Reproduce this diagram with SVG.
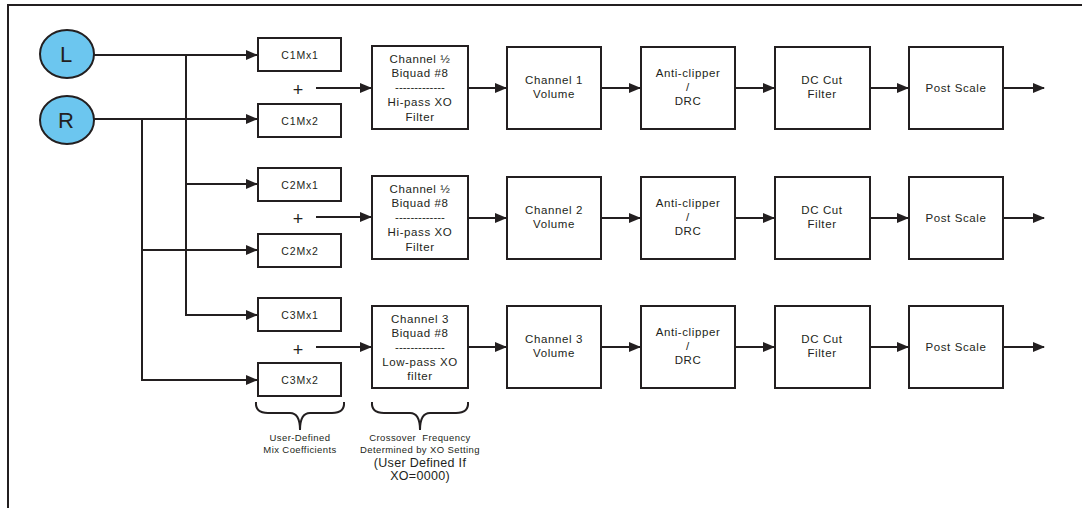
<svg xmlns="http://www.w3.org/2000/svg" width="1082" height="508" viewBox="0 0 1082 508">
<style>
.ln{fill:none;stroke:#231f20;stroke-width:2}
.bx{fill:#fff;stroke:#231f20;stroke-width:2}
.t{font-family:"Liberation Sans",Arial,sans-serif;font-size:11.5px;fill:#231f20;text-anchor:middle;letter-spacing:0.6px}
.d{font-family:"Liberation Sans",Arial,sans-serif;font-size:11.5px;fill:#231f20;text-anchor:middle;letter-spacing:0px}
.m{font-family:"Liberation Sans",Arial,sans-serif;font-size:10.5px;fill:#231f20;text-anchor:middle;letter-spacing:0.8px}
.s{font-family:"Liberation Sans",Arial,sans-serif;font-size:9.5px;fill:#231f20;text-anchor:middle;letter-spacing:0.4px}
.u{font-family:"Liberation Sans",Arial,sans-serif;font-size:12.5px;fill:#231f20;text-anchor:middle;letter-spacing:0.3px}
.p{font-family:"Liberation Sans",Arial,sans-serif;font-size:18px;fill:#231f20;text-anchor:middle}
.c{fill:#6cc6ef;stroke:#231f20;stroke-width:2}
.ct{font-family:"Liberation Sans",Arial,sans-serif;font-size:22px;fill:#231f20;text-anchor:middle}
</style>
<defs>
<marker id="ah" markerUnits="userSpaceOnUse" markerWidth="12" markerHeight="10" refX="11" refY="5" orient="auto">
<path d="M0,0 L12,5 L0,10 z" fill="#231f20"/>
</marker>
</defs>
<rect width="1082" height="508" fill="#fff"/>
<path class="ln" d="M8,510 V5 H1084" stroke-width="2.5"/>

<g id="connectors">
<path class="ln" d="M94,55 H257" marker-end="url(#ah)"/>
<path class="ln" d="M94,119 H257" marker-end="url(#ah)"/>
<path class="ln" d="M186,55 V315 H257" marker-end="url(#ah)"/>
<path class="ln" d="M186,184 H257" marker-end="url(#ah)"/>
<path class="ln" d="M142,119 V380 H257" marker-end="url(#ah)"/>
<path class="ln" d="M142,250 H257" marker-end="url(#ah)"/>
<path class="ln" d="M316,88 H371" marker-end="url(#ah)"/>
<path class="ln" d="M316,217 H371" marker-end="url(#ah)"/>
<path class="ln" d="M316,347 H371" marker-end="url(#ah)"/>
<path class="ln" d="M468,88 H506" marker-end="url(#ah)"/>
<path class="ln" d="M601,88 H640" marker-end="url(#ah)"/>
<path class="ln" d="M735,88 H774" marker-end="url(#ah)"/>
<path class="ln" d="M870,88 H908" marker-end="url(#ah)"/>
<path class="ln" d="M1003,88 H1044" marker-end="url(#ah)"/>
<path class="ln" d="M468,218 H506" marker-end="url(#ah)"/>
<path class="ln" d="M601,218 H640" marker-end="url(#ah)"/>
<path class="ln" d="M735,218 H774" marker-end="url(#ah)"/>
<path class="ln" d="M870,218 H908" marker-end="url(#ah)"/>
<path class="ln" d="M1003,218 H1044" marker-end="url(#ah)"/>
<path class="ln" d="M468,347 H506" marker-end="url(#ah)"/>
<path class="ln" d="M601,347 H640" marker-end="url(#ah)"/>
<path class="ln" d="M735,347 H774" marker-end="url(#ah)"/>
<path class="ln" d="M870,347 H908" marker-end="url(#ah)"/>
<path class="ln" d="M1003,347 H1044" marker-end="url(#ah)"/>
</g>

<g id="L"><ellipse class="c" cx="67" cy="54" rx="27" ry="24"/><text class="ct" x="66" y="62">L</text></g>
<g id="R"><ellipse class="c" cx="67" cy="120" rx="27" ry="24"/><text class="ct" x="66" y="128">R</text></g>

<g id="C1Mx1"><rect class="bx" x="258" y="38" width="83" height="33"/><text class="m" x="300" y="59">C1Mx1</text></g>
<g id="C1Mx2"><rect class="bx" x="258" y="104" width="83" height="33"/><text class="m" x="300" y="125">C1Mx2</text></g>
<g id="C2Mx1"><rect class="bx" x="258" y="168" width="83" height="33"/><text class="m" x="300" y="189">C2Mx1</text></g>
<g id="C2Mx2"><rect class="bx" x="258" y="234" width="83" height="33"/><text class="m" x="300" y="255">C2Mx2</text></g>
<g id="C3Mx1"><rect class="bx" x="258" y="298" width="83" height="33"/><text class="m" x="300" y="319">C3Mx1</text></g>
<g id="C3Mx2"><rect class="bx" x="258" y="363" width="83" height="33"/><text class="m" x="300" y="384">C3Mx2</text></g>

<g id="plus"><text class="p" x="298" y="96">+</text><text class="p" x="298" y="225">+</text><text class="p" x="298" y="356">+</text></g>

<g id="biquad1"><rect class="bx" x="372" y="46" width="96" height="83"/>
<text class="t" x="420" y="63">Channel ½</text><text class="t" x="420" y="77">Biquad #8</text><text class="d" x="420" y="91">-------------</text><text class="t" x="420" y="106">Hi-pass XO</text><text class="t" x="420" y="121">Filter</text></g>
<g id="vol1"><rect class="bx" x="507" y="47" width="94" height="82"/><text class="t" x="554" y="84">Channel 1</text><text class="t" x="554" y="98">Volume</text></g>
<g id="drc1"><rect class="bx" x="641" y="47" width="94" height="82"/><text class="t" x="688" y="77">Anti-clipper</text><text class="t" x="688" y="91">/</text><text class="t" x="688" y="105">DRC</text></g>
<g id="dc1"><rect class="bx" x="775" y="47" width="95" height="82"/><text class="t" x="822" y="84">DC Cut</text><text class="t" x="822" y="98">Filter</text></g>
<g id="ps1"><rect class="bx" x="909" y="47" width="94" height="82"/><text class="t" x="956" y="92">Post Scale</text></g>

<g id="biquad2"><rect class="bx" x="372" y="176" width="96" height="83"/>
<text class="t" x="420" y="193">Channel ½</text><text class="t" x="420" y="207">Biquad #8</text><text class="d" x="420" y="221">-------------</text><text class="t" x="420" y="236">Hi-pass XO</text><text class="t" x="420" y="251">Filter</text></g>
<g id="vol2"><rect class="bx" x="507" y="177" width="94" height="82"/><text class="t" x="554" y="214">Channel 2</text><text class="t" x="554" y="228">Volume</text></g>
<g id="drc2"><rect class="bx" x="641" y="177" width="94" height="82"/><text class="t" x="688" y="207">Anti-clipper</text><text class="t" x="688" y="221">/</text><text class="t" x="688" y="235">DRC</text></g>
<g id="dc2"><rect class="bx" x="775" y="177" width="95" height="82"/><text class="t" x="822" y="214">DC Cut</text><text class="t" x="822" y="228">Filter</text></g>
<g id="ps2"><rect class="bx" x="909" y="177" width="94" height="82"/><text class="t" x="956" y="222">Post Scale</text></g>

<g id="biquad3"><rect class="bx" x="372" y="306" width="96" height="82"/>
<text class="t" x="420" y="323">Channel 3</text><text class="t" x="420" y="337">Biquad #8</text><text class="d" x="420" y="351">-------------</text><text class="t" x="420" y="366">Low-pass XO</text><text class="t" x="420" y="380">filter</text></g>
<g id="vol3"><rect class="bx" x="507" y="306" width="94" height="82"/><text class="t" x="554" y="343">Channel 3</text><text class="t" x="554" y="357">Volume</text></g>
<g id="drc3"><rect class="bx" x="641" y="306" width="94" height="82"/><text class="t" x="688" y="336">Anti-clipper</text><text class="t" x="688" y="350">/</text><text class="t" x="688" y="364">DRC</text></g>
<g id="dc3"><rect class="bx" x="775" y="306" width="95" height="82"/><text class="t" x="822" y="343">DC Cut</text><text class="t" x="822" y="357">Filter</text></g>
<g id="ps3"><rect class="bx" x="909" y="306" width="94" height="82"/><text class="t" x="956" y="351">Post Scale</text></g>

<g id="brace-mix"><path class="ln" d="M256,402 Q255,413 268,413 H290 Q300,413 300,430 Q300,413 310,413 H332 Q345,413 344,402"/>
<text class="s" x="300" y="441">User-Defined</text><text class="s" x="300" y="453">Mix Coefficients</text></g>
<g id="brace-xo"><path class="ln" d="M372,402 Q371,413 384,413 H410 Q420,413 420,430 Q420,413 430,413 H456 Q469,413 468,402"/>
<text class="s" x="420" y="441" word-spacing="3">Crossover Frequency</text><text class="s" x="420" y="453" letter-spacing="0">Determined by XO Setting</text>
<text class="u" x="420" y="467">(User Defined If</text><text class="u" x="420" y="480">XO=0000)</text></g>
</svg>
